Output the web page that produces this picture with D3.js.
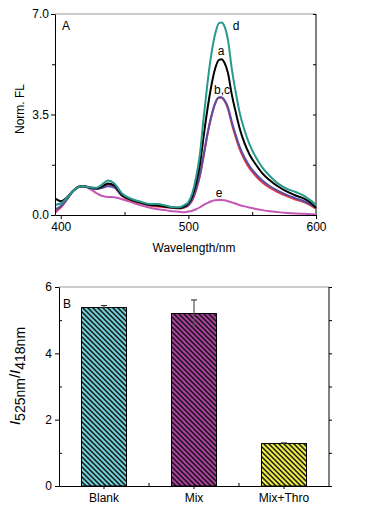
<!DOCTYPE html>
<html>
<head>
<meta charset="utf-8">
<script src="https://cdn.jsdelivr.net/npm/d3@7"></script>
<style>
  body { margin: 0; background: #fff; }
  svg { display: block; font-family: "Liberation Sans", Arial, sans-serif; }
  .axis text { font-size: 12px; fill: #000; }
  .axis line { stroke: #000; }
</style>
</head>
<body>
<script>
// ---- panel A: spectra ----
let wavelengths = [396, 400, 405, 410, 415, 418, 422, 428, 432, 437, 442, 448, 455, 462, 470, 476, 482, 488, 493, 497,
                   500, 503, 506, 509, 512, 515, 518, 521, 524, 526, 528, 531, 534, 537, 540, 544, 548, 553, 558, 564,
                   570, 577, 584, 591, 596, 600];
let curveA = [0.56, 0.48, 0.62, 0.85, 0.99, 1.0, 0.96, 0.92, 0.98, 1.1, 1.03, 0.7, 0.54, 0.44, 0.35, 0.33, 0.29, 0.25, 0.24, 0.3,
              0.4, 0.65, 1.1, 1.75, 2.75, 3.7, 4.5, 5.1, 5.4, 5.42, 5.33, 4.95, 4.2, 3.6, 3.05, 2.5, 2.1, 1.75, 1.45, 1.2,
              1.0, 0.82, 0.68, 0.56, 0.42, 0.25];
let curveB = [0.15, 0.26, 0.55, 0.85, 0.99, 1.0, 0.97, 0.93, 0.97, 1.05, 0.97, 0.66, 0.5, 0.42, 0.33, 0.3, 0.27, 0.24, 0.23, 0.26,
              0.33, 0.5, 0.85, 1.35, 2.05, 2.8, 3.42, 3.88, 4.08, 4.08, 4.0, 3.7, 3.18, 2.72, 2.32, 1.92, 1.62, 1.35, 1.13, 0.94,
              0.8, 0.66, 0.54, 0.44, 0.33, 0.22];
let curveC = [0.2, 0.3, 0.55, 0.84, 0.99, 1.0, 0.96, 0.91, 0.94, 1.0, 0.96, 0.68, 0.53, 0.44, 0.36, 0.35, 0.31, 0.26, 0.25, 0.28,
              0.35, 0.55, 0.9, 1.4, 2.1, 2.85, 3.45, 3.9, 4.1, 4.1, 4.02, 3.75, 3.25, 2.8, 2.4, 2.0, 1.7, 1.42, 1.2, 1.0,
              0.85, 0.7, 0.58, 0.47, 0.36, 0.25];
let curveD = [0.36, 0.4, 0.6, 0.85, 0.99, 1.0, 0.97, 0.95, 1.05, 1.2, 1.1, 0.75, 0.57, 0.47, 0.38, 0.38, 0.33, 0.27, 0.27, 0.35,
              0.45, 0.75, 1.3, 2.1, 3.4, 4.6, 5.6, 6.3, 6.68, 6.7, 6.6, 6.1, 5.1, 4.3, 3.6, 2.95, 2.45, 2.0, 1.65, 1.35,
              1.1, 0.92, 0.8, 0.66, 0.5, 0.35];
let curveE = [0.08, 0.3, 0.6, 0.86, 0.99, 1.0, 0.93, 0.76, 0.67, 0.63, 0.62, 0.55, 0.45, 0.35, 0.25, 0.2, 0.17, 0.13, 0.11, 0.1,
              0.12, 0.15, 0.2, 0.27, 0.35, 0.42, 0.48, 0.51, 0.52, 0.52, 0.51, 0.48, 0.44, 0.4, 0.35, 0.3, 0.26, 0.21, 0.17, 0.13,
              0.1, 0.07, 0.05, 0.04, 0.03, 0.02];
let xTicksA = [400, 500, 600];
let xMinorA = [450, 550];
let yTicksA = [0, 3.5, 7];
let yMinorA = [1.75, 5.25];

// ---- panel B: ratios ----
let categories = ["Blank", "Mix", "Mix+Thro"];
let ratios = [5.38, 5.2, 1.28];
let ratioErr = [0.06, 0.41, 0.02];
let yTicksB = [0, 2, 4, 6];
let yMinorB = [1, 3, 5];

let svg = d3.select("body").append("svg")
    .attr("width", 369)
    .attr("height", 516);

// ===== panel A =====
let x = d3.scaleLinear().domain([395.5, 600]).range([55, 316]);
let y = d3.scaleLinear().domain([0, 7]).range([215, 14]);

let gA = svg.append("g");

gA.append("line").attr("x1", 55).attr("x2", 316).attr("y1", 14).attr("y2", 14).attr("stroke", "#999");
gA.append("line").attr("x1", 316).attr("x2", 316).attr("y1", 14).attr("y2", 215).attr("stroke", "#000");

let series = [
    {key: "e", values: curveE, color: "#c457b6"},
    {key: "b", values: curveB, color: "#e8343c"},
    {key: "c", values: curveC, color: "#5a4ea6"},
    {key: "a", values: curveA, color: "#000000"},
    {key: "d", values: curveD, color: "#289a8c"}
];

let line = d3.line()
    .x(function(d, i) { return x(wavelengths[i]); })
    .y(function(d) { return y(d); })
    .curve(d3.curveMonotoneX);

gA.selectAll("path.spec")
    .data(series)
    .enter()
    .append("path")
    .attr("class", "spec")
    .attr("fill", "none")
    .attr("stroke", function(d) { return d.color; })
    .attr("stroke-width", 2)
    .attr("d", function(d) { return line(d.values); });

// axes
gA.append("g").attr("class", "axis")
    .attr("transform", "translate(0,215)")
    .call(d3.axisBottom(x).tickValues(xTicksA).tickSize(4).tickSizeOuter(0).tickPadding(3));
gA.append("g").attr("class", "axis")
    .attr("transform", "translate(0,215)")
    .call(d3.axisTop(x).tickValues(xMinorA).tickSize(3).tickFormat(""))
    .select(".domain").remove();
gA.append("g").attr("class", "axis")
    .attr("transform", "translate(55,0)")
    .call(d3.axisLeft(y).tickValues(yTicksA).tickFormat(d3.format(".1f")).tickSize(4).tickSizeOuter(0).tickPadding(2));
gA.append("g").attr("class", "axis")
    .attr("transform", "translate(55,0)")
    .call(d3.axisLeft(y).tickValues(yMinorA).tickSize(3).tickFormat(""))
    .select(".domain").remove();
gA.append("g").attr("class", "axis")
    .attr("transform", "translate(316,0)")
    .call(d3.axisLeft(y).tickValues(yTicksA.concat(yMinorA)).tickSize(3).tickFormat(""))
    .select(".domain").remove();

gA.selectAll(".axis .domain").attr("stroke", "#000");

gA.append("text").attr("x", 194).attr("y", 252).attr("text-anchor", "middle")
    .attr("font-size", 12).text("Wavelength/nm");
gA.append("text").attr("transform", "translate(24,109) rotate(-90)").attr("text-anchor", "middle")
    .attr("font-size", 12).text("Norm. FL");
gA.append("text").attr("x", 62).attr("y", 30).attr("font-size", 12).text("A");

let curveLabels = [["d", 236, 30], ["a", 221, 55], ["b,c", 222, 94], ["e", 219, 197]];
gA.selectAll("text.lab")
    .data(curveLabels)
    .enter()
    .append("text")
    .attr("class", "lab")
    .attr("x", function(d) { return d[1]; })
    .attr("y", function(d) { return d[2]; })
    .attr("text-anchor", "middle")
    .attr("font-size", 12)
    .text(function(d) { return d[0]; });

// ===== panel B =====
let xb = d3.scaleBand().domain(categories).range([59, 329]).paddingInner(0.5).paddingOuter(0.25);
let yb = d3.scaleLinear().domain([0, 6]).range([486, 287]);

let gB = svg.append("g");
let defs = svg.append("defs");
let fills = ["#6fcdd6", "#a8409c", "#ecea45"];

fills.forEach(function(c, i) {
    let p = defs.append("pattern")
        .attr("id", "hatch" + i)
        .attr("patternUnits", "userSpaceOnUse")
        .attr("width", 5)
        .attr("height", 5);
    p.append("rect").attr("width", 5).attr("height", 5).attr("fill", c);
    p.append("path")
        .attr("d", "M-1,-1L6,6M-1,4L1,6M4,-1L6,1")
        .attr("stroke", "#111")
        .attr("stroke-width", 1.4);
});

gB.append("line").attr("x1", 59).attr("x2", 329).attr("y1", 287).attr("y2", 287).attr("stroke", "#999");
gB.append("line").attr("x1", 329).attr("x2", 329).attr("y1", 287).attr("y2", 486).attr("stroke", "#000");

gB.selectAll("rect.bar")
    .data(ratios)
    .enter()
    .append("rect")
    .attr("class", "bar")
    .attr("x", function(d, i) { return xb(categories[i]); })
    .attr("y", function(d) { return yb(d); })
    .attr("width", xb.bandwidth())
    .attr("height", function(d) { return yb(0) - yb(d); })
    .attr("fill", function(d, i) { return "url(#hatch" + i + ")"; })
    .attr("stroke", "#000")
    .attr("stroke-width", 1);

// error bars
let eb = gB.selectAll("g.err")
    .data(ratios)
    .enter()
    .append("g")
    .attr("class", "err");
eb.append("line")
    .attr("x1", function(d, i) { return xb(categories[i]) + xb.bandwidth() / 2; })
    .attr("x2", function(d, i) { return xb(categories[i]) + xb.bandwidth() / 2; })
    .attr("y1", function(d, i) { return yb(d + ratioErr[i]); })
    .attr("y2", function(d, i) { return yb(d - ratioErr[i]); })
    .attr("stroke", "#555")
    .attr("stroke-width", 1.2);
eb.append("line")
    .attr("x1", function(d, i) { return xb(categories[i]) + xb.bandwidth() / 2 - 3; })
    .attr("x2", function(d, i) { return xb(categories[i]) + xb.bandwidth() / 2 + 3; })
    .attr("y1", function(d, i) { return yb(d + ratioErr[i]); })
    .attr("y2", function(d, i) { return yb(d + ratioErr[i]); })
    .attr("stroke", "#222")
    .attr("stroke-width", 1);

gB.append("g").attr("class", "axis")
    .attr("transform", "translate(0,486)")
    .call(d3.axisBottom(xb).tickSize(3).tickSizeOuter(0).tickPadding(4));
let bounds = [xb(categories[1]) - xb.step() * xb.paddingInner() / 2, xb(categories[2]) - xb.step() * xb.paddingInner() / 2];
gB.selectAll("line.sep")
    .data(bounds)
    .enter()
    .append("line")
    .attr("class", "sep")
    .attr("x1", function(d) { return d; })
    .attr("x2", function(d) { return d; })
    .attr("y1", 486)
    .attr("y2", 483)
    .attr("stroke", "#000");

gB.append("g").attr("class", "axis")
    .attr("transform", "translate(59,0)")
    .call(d3.axisLeft(yb).tickValues(yTicksB).tickFormat(d3.format("d")).tickSize(4).tickSizeOuter(0).tickPadding(3));
gB.append("g").attr("class", "axis")
    .attr("transform", "translate(59,0)")
    .call(d3.axisRight(yb).tickValues(yMinorB).tickSize(3).tickFormat(""))
    .select(".domain").remove();
gB.append("g").attr("class", "axis")
    .attr("transform", "translate(329,0)")
    .call(d3.axisRight(yb).tickValues(yTicksB.concat(yMinorB)).tickSize(3).tickFormat(""))
    .select(".domain").remove();

gB.selectAll(".axis .domain").attr("stroke", "#000");

gB.append("text").attr("x", 63).attr("y", 308).attr("font-size", 12).text("B");

let yl = gB.append("text")
    .attr("transform", "translate(20,376) rotate(-90)")
    .attr("text-anchor", "middle")
    .attr("font-size", 15);
yl.append("tspan").attr("font-style", "italic").text("I");
yl.append("tspan").attr("dy", 5).attr("font-size", 14).text("525nm");
yl.append("tspan").attr("dy", -5).text("/");
yl.append("tspan").attr("font-style", "italic").text("I");
yl.append("tspan").attr("dy", 5).attr("font-size", 14).text("418nm");
</script>
</body>
</html>
